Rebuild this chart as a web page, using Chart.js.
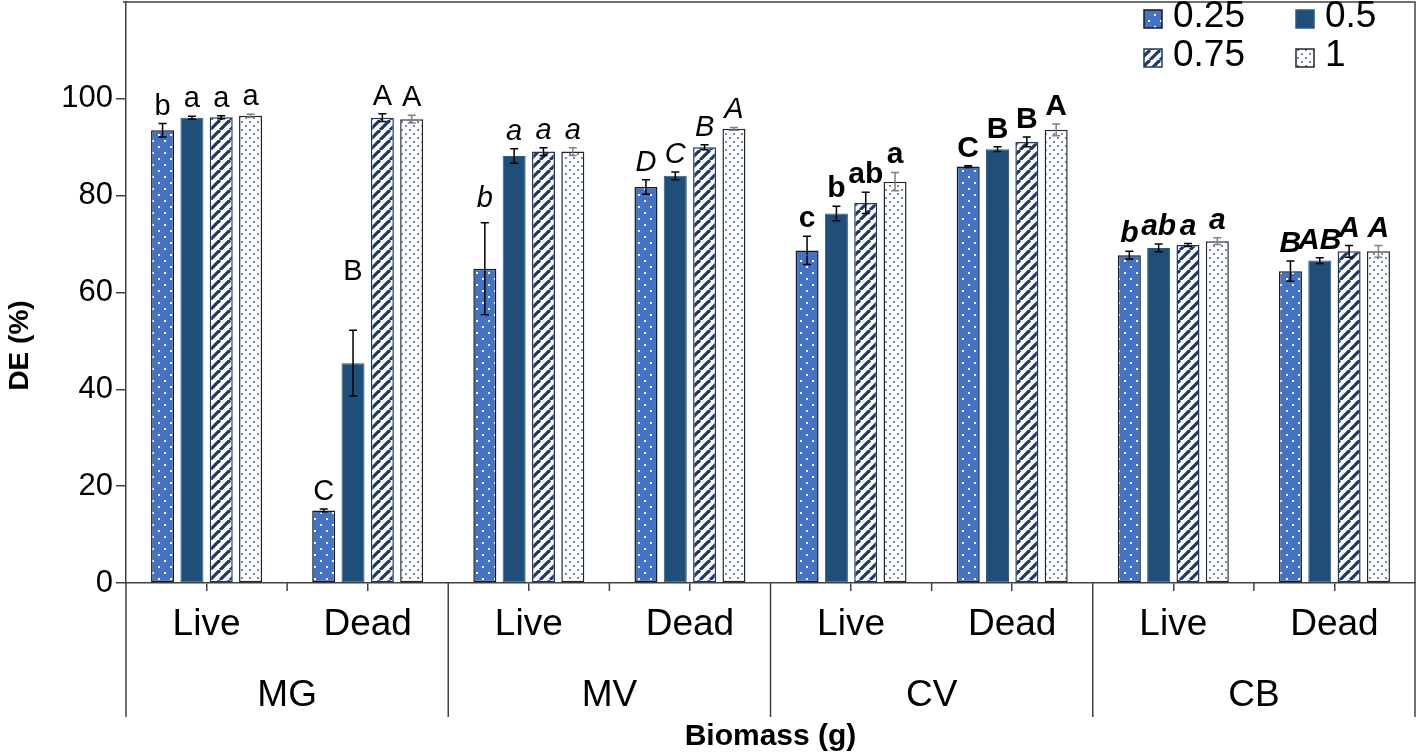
<!DOCTYPE html>
<html>
<head>
<meta charset="utf-8">
<script src="https://cdn.jsdelivr.net/npm/chart.js@4.4.0/dist/chart.umd.min.js"></script>
<style>
body { margin: 0; background: #fff; }
#caixa { width: 1418px; height: 755px; }
</style>
</head>
<body>
<div id="caixa"><canvas id="grafico" width="1418" height="755"></canvas></div>
<script>
// categorias
const subgrupos = ['Live', 'Dead', 'Live', 'Dead', 'Live', 'Dead', 'Live', 'Dead']
const grupos = ['MG', 'MV', 'CV', 'CB']
const doses = ['0.25', '0.5', '0.75', '1']

// DE (%) por dose
const de025 = [93.5, 15.0, 64.9, 81.8, 68.7, 86.0, 67.7, 64.4]
const de05 = [96.1, 45.4, 88.2, 84.1, 76.3, 89.6, 69.2, 66.6]
const de075 = [96.2, 96.1, 89.1, 90.0, 78.5, 91.1, 69.8, 68.5]
const de1 = [96.5, 95.8, 89.1, 93.8, 82.9, 93.6, 70.6, 68.5]

// desvio padrao
const dp025 = [1.4, 0.3, 9.5, 1.5, 2.9, 0.2, 0.8, 2.1]
const dp05 = [0.3, 6.8, 1.5, 0.8, 1.5, 0.5, 0.8, 0.6]
const dp075 = [0.3, 0.8, 0.8, 0.5, 2.2, 1.0, 0.3, 1.2]
const dp1 = [0.3, 0.8, 0.8, 0.3, 1.9, 1.2, 0.7, 1.2]

// letras de significancia
const letras025 = ['b', 'C', 'b', 'D', 'c', 'C', 'b', 'B']
const letras05 = ['a', 'B', 'a', 'C', 'b', 'B', 'ab', 'AB']
const letras075 = ['a', 'A', 'a', 'B', 'ab', 'B', 'a', 'A']
const letras1 = ['a', 'A', 'a', 'A', 'a', 'A', 'a', 'A']

const yTicks = [0, 20, 40, 60, 80, 100]

const FONTE = "'Liberation Sans', Arial, sans-serif"
const estiloLetras = ['normal', 'italic', 'bold', 'italic bold'] // um por grupo
const elevarLetra = { '1,1': 41, '0,2': 7 } // letras que ficam mais altas no original

function padraoPontos(fundo, ponto, tam, r) {
	const c = document.createElement('canvas')
	c.width = tam; c.height = tam
	const g = c.getContext('2d')
	g.fillStyle = fundo
	g.fillRect(0, 0, tam, tam)
	g.fillStyle = ponto
	g.fillRect(tam / 4 - r / 2, tam / 4 - r / 2, r, r)
	g.fillRect(3 * tam / 4 - r / 2, 3 * tam / 4 - r / 2, r, r)
	return g.createPattern(c, 'repeat')
}

function padraoListras(fundo, cor, tam, largura) {
	const c = document.createElement('canvas')
	c.width = tam; c.height = tam
	const g = c.getContext('2d')
	g.fillStyle = fundo
	g.fillRect(0, 0, tam, tam)
	g.strokeStyle = cor
	g.lineWidth = largura
	for (let k = -1; k <= 1; k++) {
		g.beginPath()
		g.moveTo(k * tam, tam)
		g.lineTo(k * tam + tam, 0)
		g.stroke()
	}
	return g.createPattern(c, 'repeat')
}

const estilos = [
	{ fundo: padraoPontos('#4472C4', '#ffffff', 12, 2), borda: '#1a1a1a', largura: 1.5, erro: '#000000' },
	{ fundo: '#1F4E79', borda: '#2a5a88', largura: 1, erro: '#000000' },
	{ fundo: padraoListras('#ffffff', '#1F3864', 10, 3.2), borda: '#1F3864', largura: 1.5, erro: '#000000' },
	{ fundo: padraoPontos('#ffffff', '#4a6fb0', 8, 1.8), borda: '#262626', largura: 1.5, erro: '#808080' }
]

const valores = [de025, de05, de075, de1]
const desvios = [dp025, dp05, dp075, dp1]
const letras = [letras025, letras05, letras075, letras1]

const dataSets = doses.map((d, i) => ({
	label: d,
	data: valores[i],
	backgroundColor: estilos[i].fundo,
	borderColor: estilos[i].borda,
	borderWidth: estilos[i].largura,
	borderSkipped: false
}))

// moldura, separadores dos grupos, ticks intermediarios e titulo do eixo y
const moldura = {
	id: 'moldura',
	afterDraw(chart) {
		const { ctx, chartArea } = chart
		const baseSep = chart.scales.x2.top + 64
		ctx.save()
		ctx.strokeStyle = '#404040'
		ctx.lineWidth = 1.5
		ctx.beginPath()
		ctx.moveTo(chartArea.left - 3, chartArea.top)
		ctx.lineTo(chartArea.right, chartArea.top)
		ctx.lineTo(chartArea.right, baseSep)
		const passo = (chartArea.right - chartArea.left) / subgrupos.length
		for (let i = 0; i <= subgrupos.length; i++) {
			const px = chartArea.left + i * passo
			ctx.moveTo(px, chartArea.bottom)
			ctx.lineTo(px, i % 2 === 0 ? baseSep : chartArea.bottom + 8)
		}
		ctx.stroke()
		// titulo do eixo y, centrado um pouco abaixo do meio como no original
		ctx.translate(chartArea.left - 106, (chartArea.top + baseSep) / 2 - 14)
		ctx.rotate(-Math.PI / 2)
		ctx.font = `bold 28px ${FONTE}`
		ctx.fillStyle = '#000'
		ctx.textAlign = 'center'
		ctx.textBaseline = 'middle'
		ctx.fillText('DE (%)', 0, 0)
		ctx.restore()
	}
}

// barras de erro e letras
const barrasErro = {
	id: 'barrasErro',
	afterDatasetsDraw(chart) {
		const { ctx } = chart
		const y = chart.scales.y
		ctx.save()
		chart.data.datasets.forEach((ds, i) => {
			const meta = chart.getDatasetMeta(i)
			meta.data.forEach((bar, j) => {
				const v = valores[i][j], e = desvios[i][j]
				const yTop = y.getPixelForValue(v + e)
				const yBot = y.getPixelForValue(v - e)
				ctx.strokeStyle = estilos[i].erro
				ctx.lineWidth = 1.5
				ctx.beginPath()
				ctx.moveTo(bar.x, yTop); ctx.lineTo(bar.x, yBot)
				ctx.moveTo(bar.x - 4, yTop); ctx.lineTo(bar.x + 4, yTop)
				ctx.moveTo(bar.x - 4, yBot); ctx.lineTo(bar.x + 4, yBot)
				ctx.stroke()
				const estilo = estiloLetras[Math.floor(j / 2)]
				const tam = estilo.includes('bold') ? 30 : 29
				ctx.font = `${estilo} ${tam}px ${FONTE}`
				ctx.fillStyle = '#000'
				ctx.textAlign = 'center'
				ctx.textBaseline = 'alphabetic'
				const extra = elevarLetra[i + ',' + j] || 0
				ctx.fillText(letras[i][j], bar.x, yTop - 9 - extra)
			})
		})
		ctx.restore()
	}
}

// legenda em duas colunas dentro da moldura
const legenda = {
	id: 'legenda',
	afterDraw(chart) {
		const { ctx, chartArea } = chart
		const colunas = [chartArea.right - 271, chartArea.right - 119]
		const linhas = [chartArea.top + 8, chartArea.top + 47]
		ctx.save()
		ctx.font = `37px ${FONTE}`
		ctx.textAlign = 'left'
		ctx.textBaseline = 'middle'
		doses.forEach((d, i) => {
			const bx = colunas[i % 2], by = linhas[Math.floor(i / 2)]
			ctx.fillStyle = estilos[i].fundo
			ctx.fillRect(bx, by, 18, 18)
			ctx.strokeStyle = estilos[i].borda
			ctx.lineWidth = 1.5
			ctx.strokeRect(bx, by, 18, 18)
			ctx.fillStyle = '#000'
			ctx.fillText(d, bx + 29, by + 7)
		})
		ctx.restore()
	}
}

const chart = new Chart(document.getElementById('grafico'), {
	type: 'bar',
	data: {
		labels: subgrupos,
		datasets: dataSets
	},
	options: {
		responsive: false,
		animation: false,
		layout: { padding: { top: 2, right: 3, left: 0, bottom: 0 } },
		datasets: { bar: { categoryPercentage: 0.728, barPercentage: 0.785 } },
		plugins: {
			legend: { display: false },
			tooltip: { enabled: false }
		},
		scales: {
			x: {
				grid: { display: true, drawOnChartArea: false, offset: false, tickLength: 8, color: '#404040', lineWidth: 1.5 },
				border: { color: '#404040', width: 1.5 },
				ticks: { font: { family: FONTE, size: 37 }, color: '#000', padding: 12, maxRotation: 0, autoSkip: false },
				afterFit: (s) => { s.height = 70 }
			},
			x2: {
				type: 'category',
				labels: grupos,
				position: 'bottom',
				offset: true,
				weight: 1,
				grid: { display: false },
				border: { display: false },
				ticks: { font: { family: FONTE, size: 37 }, color: '#000', padding: 13, maxRotation: 0 },
				title: { display: true, text: 'Biomass (g)', font: { family: FONTE, size: 30, weight: 'bold' }, color: '#000', padding: 0 },
				afterFit: (s) => { s.height = 102 }
			},
			y: {
				min: 0,
				max: 120,
				afterBuildTicks: (s) => { s.ticks = yTicks.map(v => ({ value: v })) },
				ticks: { font: { family: FONTE, size: 31 }, color: '#000', padding: 3 },
				grid: { display: true, drawOnChartArea: false, tickLength: 10, color: '#404040', lineWidth: 1.5 },
				border: { color: '#404040', width: 1.5 },
				title: { display: false },
				afterFit: (s) => { s.width = 126; s.paddingTop = 0; s.paddingBottom = 0 }
			}
		}
	},
	plugins: [moldura, barrasErro, legenda]
})
</script>
</body>
</html>
